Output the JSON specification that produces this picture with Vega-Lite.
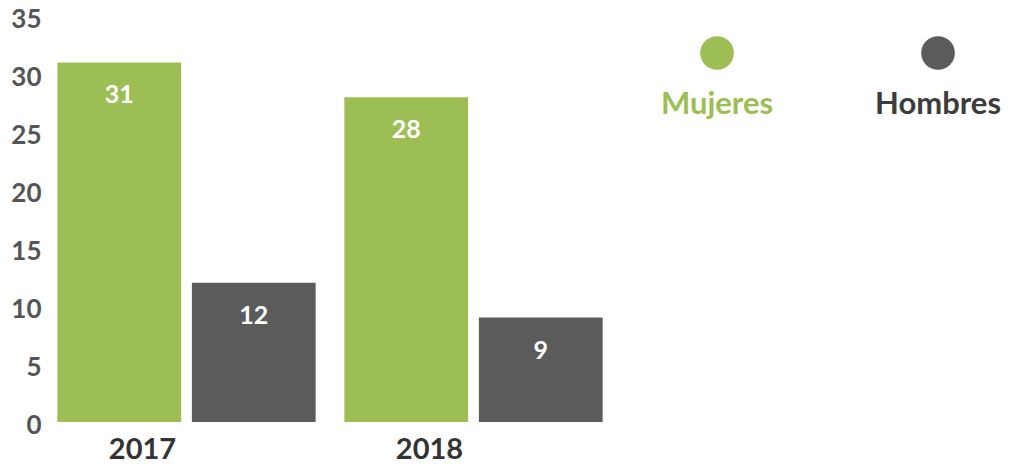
{
  "$schema": "https://vega.github.io/schema/vega-lite/v6.json",
  "padding": {"left": 5, "top": 6, "right": 0, "bottom": 0},
  "background": "white",
  "config": {"view": {"stroke": null}, "font": "Lato", "concat": {"spacing": 0}},
  "spacing": 0,
  "datasets": {
    "bars": [
      {"year": "2017", "sex": "Mujeres", "value": 31},
      {"year": "2017", "sex": "Hombres", "value": 12},
      {"year": "2018", "sex": "Mujeres", "value": 28},
      {"year": "2018", "sex": "Hombres", "value": 9}
    ],
    "legend": [
      {"sex": "Mujeres"},
      {"sex": "Hombres"}
    ]
  },
  "hconcat": [
    {
      "width": 574,
      "height": 406,
      "data": {"name": "bars"},
      "encoding": {
        "x": {
          "field": "year", "type": "nominal",
          "scale": {"paddingInner": 0.1, "paddingOuter": 0.05},
          "axis": {"title": null, "domain": false, "ticks": false, "labelAngle": 0, "labelFontSize": 29, "labelFontWeight": "bold", "labelColor": "#333333", "labelPadding": 13, "labelOffset": -44, "labelFont": "Lato"}
        },
        "xOffset": {"field": "sex", "type": "nominal", "sort": ["Mujeres", "Hombres"], "scale": {"paddingInner": 0.08, "paddingOuter": 0}},
        "y": {
          "field": "value", "type": "quantitative",
          "scale": {"domain": [0, 35], "nice": false},
          "axis": {"title": null, "domain": false, "ticks": false, "grid": false, "values": [0, 5, 10, 15, 20, 25, 30, 35], "labelFontSize": 26, "labelFontWeight": "bold", "labelColor": "#555555", "labelPadding": 2, "minExtent": 38, "maxExtent": 38, "labelOffset": 3, "labelFont": "Lato"}
        }
      },
      "layer": [
        {
          "mark": {"type": "bar"},
          "encoding": {
            "color": {"field": "sex", "type": "nominal", "scale": {"domain": ["Mujeres", "Hombres"], "range": ["#9DBE55", "#5B5B5B"]}, "legend": null}
          }
        },
        {
          "mark": {"type": "text", "baseline": "middle", "dy": 33, "fontSize": 25, "fontWeight": "bold", "color": "white", "font": "Lato"},
          "encoding": {"text": {"field": "value", "type": "quantitative"}}
        }
      ]
    },
    {
      "width": 392,
      "height": 120,
      "data": {"name": "legend"},
      "encoding": {
        "x": {"field": "sex", "type": "nominal", "sort": ["Mujeres", "Hombres"], "scale": {"type": "point", "padding": 0.387, "align": 0.585}, "axis": null}
      },
      "layer": [
        {
          "mark": {"type": "point", "filled": true, "opacity": 1, "size": 1134},
          "encoding": {
            "y": {"value": 37},
            "color": {"condition": {"test": "datum.sex === 'Mujeres'", "value": "#9DBE55"}, "value": "#5B5B5B"}
          }
        },
        {
          "mark": {"type": "text", "baseline": "middle", "fontSize": 31, "fontWeight": "bold", "font": "Lato"},
          "encoding": {
            "y": {"value": 89},
            "text": {"field": "sex", "type": "nominal"},
            "color": {"condition": {"test": "datum.sex === 'Mujeres'", "value": "#9DBE55"}, "value": "#3C3C3C"}
          }
        }
      ]
    }
  ]
}
